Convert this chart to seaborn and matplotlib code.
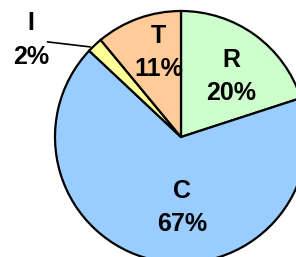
import numpy as np
import matplotlib
matplotlib.use("Agg")
import matplotlib.pyplot as plt
import seaborn as sns

labels = ["R", "C", "I", "T"]
shares = [20, 67, 2, 11]
colors = ["#CCFFCC", "#99CCFF", "#FFFF99", "#FFCC99"]

sns.set_style("white")
plt.rcParams["font.family"] = ["Liberation Sans", "DejaVu Sans"]

fig = plt.figure(figsize=(2.96, 2.57), dpi=100)
ax = fig.add_axes([0, 0, 1, 1])
ax.pie(shares, colors=colors, startangle=90, counterclock=False,
       wedgeprops=dict(edgecolor="black", linewidth=1.6))

# label positions (in pie radius units)
pos = {"R": (0.40, 0.48), "C": (0.01, -0.56), "T": (-0.18, 0.67)}
for lab, val in zip(labels, shares):
    txt = f"{lab}\n{val}%"
    if lab in pos:
        x, y = pos[lab]
    else:
        x, y = -1.19, 0.77
        ax.plot([-1.06, -0.72], [0.755, 0.715], color="black", lw=1.2)
    ax.text(x, y, txt, ha="center", va="center", fontsize=18,
            fontweight="bold", linespacing=1.5, color="black")

r = 126.0
ax.set_xlim(-181 / r, (296 - 181) / r)
ax.set_ylim(-(257 - 137) / r, 137 / r)
ax.set_aspect("auto")
ax.axis("off")
fig.savefig("out.png", dpi=100)
